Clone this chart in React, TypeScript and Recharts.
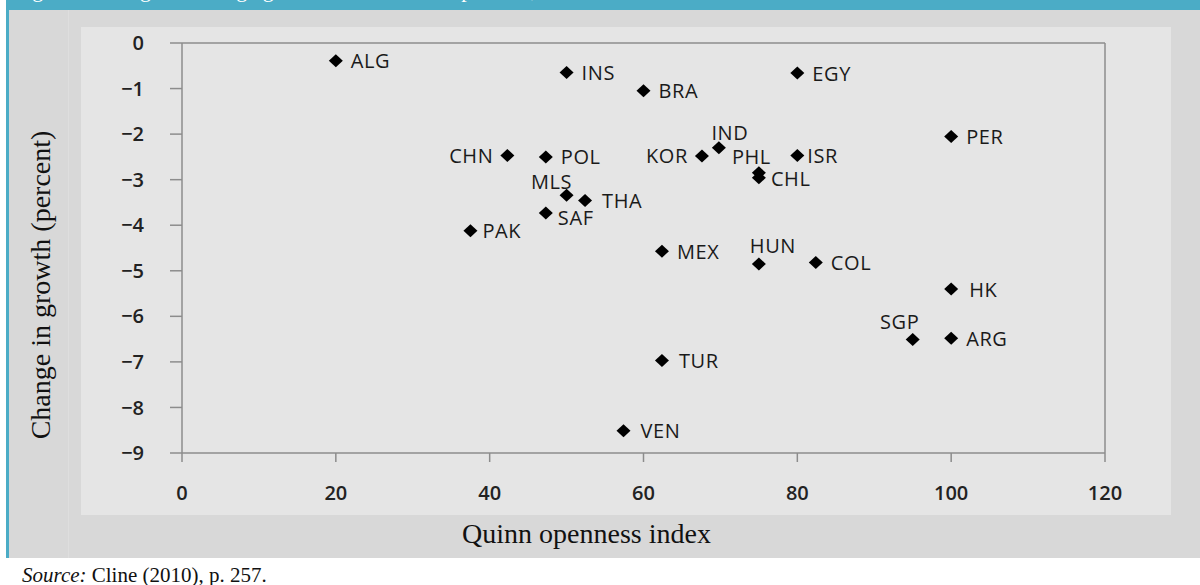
import { ScatterChart, Scatter, XAxis, YAxis, ReferenceLine, Label } from "recharts";

const countries = [
  "ALG", "INS", "BRA", "EGY", "PER", "CHN", "POL", "KOR", "IND", "PHL", "ISR", "CHL",
  "MLS", "THA", "SAF", "PAK", "MEX", "HUN", "COL", "HK", "SGP", "ARG", "TUR", "VEN",
];
const openness = [
  20, 50, 60, 80, 100, 42.3, 47.3, 67.6, 69.8, 75, 80, 75,
  50, 52.4, 47.3, 37.5, 62.4, 75, 82.4, 100, 95, 100, 62.4, 57.4,
];
const growthChange = [
  -0.39, -0.65, -1.05, -0.66, -2.05, -2.47, -2.5, -2.48, -2.3, -2.85, -2.47, -2.96,
  -3.34, -3.46, -3.73, -4.12, -4.57, -4.85, -4.82, -5.4, -6.51, -6.48, -6.97, -8.51,
];
const xTicks = [0, 20, 40, 60, 80, 100, 120];
const yTicks = [0, -1, -2, -3, -4, -5, -6, -7, -8, -9];

const points = countries.map((name, i) => ({ name, x: openness[i], y: growthChange[i] }));

// where each name sits relative to its marker: dx, dy, anchor
const labelSpot: Record<string, [number, number, "start" | "middle" | "end"]> = {
  CHN: [-14, 0, "end"],
  KOR: [-14, 0, "end"],
  IND: [11, -15, "middle"],
  PHL: [-27, -16, "start"],
  ISR: [10, 0, "start"],
  CHL: [12, 1, "start"],
  MLS: [-15, -14, "middle"],
  SAF: [12, 5, "start"],
  PAK: [12, 0, "start"],
  HUN: [14, -18, "middle"],
  SGP: [-13, -18, "middle"],
  HK: [18, 0, "start"],
  THA: [17, 0, "start"],
  TUR: [17, 0, "start"],
  VEN: [17, 0, "start"],
};

const axisColor = "#8c8c8c";
const sans = "'Open Sans', sans-serif";
const serif = "'Liberation Serif', serif";

const Marker = (props: any) => {
  const { cx, cy, payload } = props;
  const [dx, dy, anchor] = labelSpot[payload.name] ?? [15, 0, "start"];
  return (
    <g>
      <polygon
        points={`${cx},${cy - 6.5} ${cx + 7},${cy} ${cx},${cy + 6.5} ${cx - 7},${cy}`}
        fill="#000"
      />
      <text
        x={cx + dx}
        y={cy + dy}
        textAnchor={anchor}
        dominantBaseline="central"
        fontFamily={sans}
        fontSize={20}
        letterSpacing={0.6}
        fill="#1a1a1a"
      >
        {payload.name}
      </text>
    </g>
  );
};

export default function App() {
  return (
    <div
      style={{
        position: "absolute",
        left: 0,
        top: 0,
        width: 1200,
        height: 585,
        overflow: "hidden",
        background: "#fff",
      }}
    >
      <div
        style={{
          position: "absolute",
          left: 14,
          top: -21,
          color: "#fff",
          fontFamily: serif,
          fontSize: 22,
          lineHeight: "22px",
          whiteSpace: "nowrap",
          zIndex: 2,
        }}
      >
        Figure 3  Change in average growth and financial openness, 2007–09
      </div>
      <div style={{ position: "absolute", left: 6, top: 0, width: 1194, height: 10, background: "#4bacc6", zIndex: 1 }} />
      <div style={{ position: "absolute", left: 6, top: 0, width: 3, height: 558, background: "#4bacc6" }} />
      <div style={{ position: "absolute", left: 9, top: 10, width: 1191, height: 548, background: "#d8d8d8" }} />
      <div style={{ position: "absolute", left: 68, top: 10, width: 1, height: 548, background: "#dedede" }} />
      <div style={{ position: "absolute", left: 81, top: 27, width: 1090, height: 488, background: "#e5e5e5" }} />
      <div
        style={{
          position: "absolute",
          left: 22,
          top: 562,
          fontFamily: serif,
          fontSize: 21,
          lineHeight: "26px",
          color: "#111",
          whiteSpace: "nowrap",
        }}
      >
        <i>Source:</i> Cline (2010), p. 257.
      </div>

      <ScatterChart
        width={1200}
        height={585}
        margin={{ top: 43, right: 95, bottom: 72, left: 82 }}
        style={{ position: "absolute", left: 0, top: 0 }}
      >
        <XAxis
          type="number"
          dataKey="x"
          domain={[0, 120]}
          ticks={xTicks}
          height={60}
          tickSize={9}
          tickMargin={24}
          axisLine={{ stroke: axisColor, strokeWidth: 1.5 }}
          tickLine={{ stroke: axisColor, strokeWidth: 1.5 }}
          tick={{ fill: "#222", fontSize: 20, fontWeight: 600, fontFamily: sans }}
        >
          <Label
            content={({ viewBox }: any) => (
              <text
                x={viewBox.x + viewBox.width / 2 - 57}
                y={viewBox.y + 80}
                textAnchor="middle"
                dominantBaseline="central"
                fontFamily={serif}
                fontSize={28}
                fill="#111"
              >
                Quinn openness index
              </text>
            )}
          />
        </XAxis>
        <YAxis
          type="number"
          dataKey="y"
          domain={[-9, 0]}
          ticks={yTicks}
          width={100}
          tickSize={12}
          tickMargin={26}
          tickFormatter={(v: number) => (v < 0 ? `\u2212${-v}` : `${v}`)}
          axisLine={{ stroke: axisColor, strokeWidth: 1.5 }}
          tickLine={{ stroke: axisColor, strokeWidth: 1.5 }}
          tick={{ fill: "#222", fontSize: 20, fontWeight: 600, fontFamily: sans }}
        >
          <Label
            content={({ viewBox }: any) => {
              const cx = viewBox.x - 42;
              const cy = viewBox.y + viewBox.height / 2 + 37;
              return (
                <text
                  x={cx}
                  y={cy}
                  transform={`rotate(-90 ${cx} ${cy})`}
                  textAnchor="middle"
                  dominantBaseline="central"
                  fontFamily={serif}
                  fontSize={28}
                  fill="#111"
                >
                  Change in growth (percent)
                </text>
              );
            }}
          />
        </YAxis>
        <ReferenceLine y={0} stroke={axisColor} strokeWidth={1.5} />
        <ReferenceLine x={120} stroke={axisColor} strokeWidth={1.5} />
        <Scatter data={points} shape={Marker} isAnimationActive={false} />
      </ScatterChart>
    </div>
  );
}
